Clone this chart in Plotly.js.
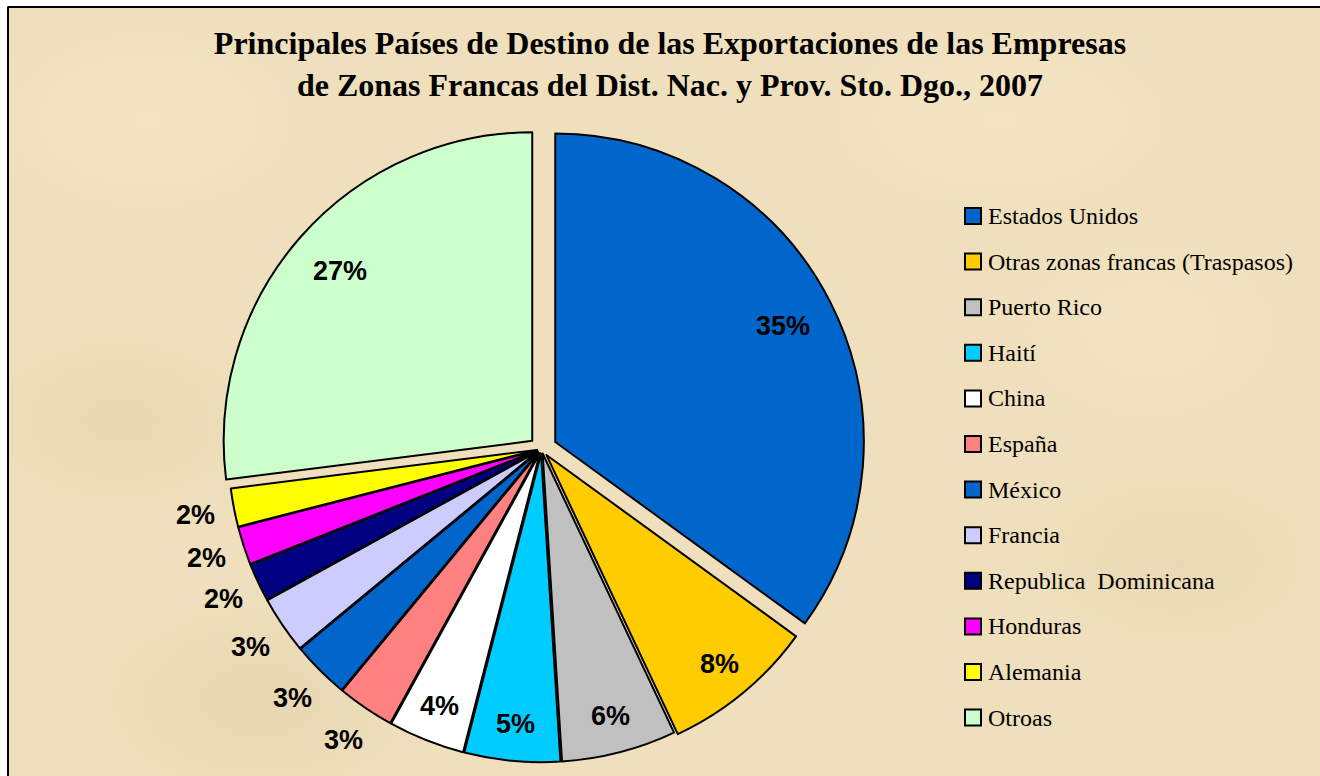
<!DOCTYPE html>
<html>
<head>
<meta charset="utf-8">
<script src="https://cdn.plot.ly/plotly-3.0.1.min.js"></script>
<style>
html,body{margin:0;padding:0;background:#fff;}
#chart{width:1320px;height:776px;
  background-color:#EFDFBC;
  background-image:
    radial-gradient(ellipse 220px 140px at 120px 420px, rgba(205,180,135,0.18), rgba(205,180,135,0) 70%),
    radial-gradient(ellipse 260px 160px at 260px 700px, rgba(200,175,130,0.18), rgba(200,175,130,0) 70%),
    radial-gradient(ellipse 240px 150px at 1180px 560px, rgba(210,185,140,0.16), rgba(210,185,140,0) 70%),
    radial-gradient(ellipse 300px 160px at 1000px 120px, rgba(250,238,210,0.4), rgba(250,238,210,0) 70%),
    radial-gradient(ellipse 260px 160px at 150px 120px, rgba(250,238,210,0.4), rgba(250,238,210,0) 70%),
    radial-gradient(ellipse 260px 180px at 1150px 330px, rgba(248,234,205,0.35), rgba(248,234,205,0) 70%);
}
</style>
</head>
<body>
<div id="chart"></div>
<script>
const categories = ["Estados Unidos","Otras zonas francas (Traspasos)","Puerto Rico","Haití","China","España","México","Francia","Republica  Dominicana","Honduras","Alemania","Otroas"];
const values = [35, 8, 6, 5, 4, 3, 3, 3, 2, 2, 2, 27];
const colors = ["#0066CC","#FFCC00","#C0C0C0","#00CCFF","#FFFFFF","#FF8080","#0066CC","#CCCCFF","#000080","#FF00FF","#FFFF00","#CCFFCC"];
const pulls = [0.05, 0.025, 0.015, 0.015, 0.015, 0.015, 0.015, 0.015, 0.015, 0.015, 0.015, 0.04];
const titleText = "Principales Países de Destino de las Exportaciones de las Empresas<br>de Zonas Francas del Dist. Nac. y Prov. Sto. Dgo., 2007";

const W = 1320, H = 776;
const labelFont = {family: "Liberation Sans, Arial, sans-serif", size: 27, color: "#000", weight: "bold"};
const total = values.reduce((a, b) => a + b, 0);
const pctText = values.map(v => Math.round(100 * v / total) + "%");

// pie geometry (pixels)
const dom = {x: [215, 868], yTop: 125, yBot: 773};
const cx = (dom.x[0] + dom.x[1]) / 2, cy = (dom.yTop + dom.yBot) / 2;
const maxPull = Math.max(...pulls);
const R = Math.min(dom.x[1] - dom.x[0], dom.yBot - dom.yTop) / (2 + 2 * maxPull);

const trace = {
  type: "pie",
  labels: categories,
  values: values,
  sort: false,
  direction: "clockwise",
  rotation: 0,
  pull: pulls,
  marker: {colors: colors, line: {color: "#000", width: 2}},
  textinfo: "none",
  domain: {x: [dom.x[0] / W, dom.x[1] / W], y: [1 - dom.yBot / H, 1 - dom.yTop / H]},
  showlegend: false,
  hoverinfo: "label+percent"
};

const annotations = [];
const shapes = [];
// percentage labels along each slice's bisector (inside end for larger slices, outside end for small ones)
let cum = 0;
values.forEach((v, i) => {
  const a = 2 * Math.PI * (cum + v / 2) / total;
  cum += v;
  const share = v / total;
  const k = share >= 0.2 ? 0.83 : (share >= 0.04 ? 0.88 : 1.125);
  const rr = R * (pulls[i] + k);
  const px = cx + rr * Math.sin(a), py = cy - rr * Math.cos(a);
  annotations.push({xref: "paper", yref: "paper", x: px / W, y: 1 - py / H,
    xanchor: "center", yanchor: "middle", showarrow: false, text: pctText[i], font: labelFont});
});

// Legend built from categories/colors
const legX = 965, legY0 = 216, legStep = 45.6, sq = 16;
categories.forEach((c, i) => {
  const yc = legY0 + i * legStep;
  shapes.push({type: "rect", xref: "paper", yref: "paper",
    x0: legX / W, x1: (legX + sq) / W, y0: 1 - (yc - sq/2) / H, y1: 1 - (yc + sq/2) / H,
    fillcolor: colors[i], line: {color: "#000", width: 2}});
  annotations.push({xref: "paper", yref: "paper", x: (legX + sq + 5) / W, y: 1 - yc / H,
    xanchor: "left", yanchor: "middle", showarrow: false, text: c,
    font: {family: "Liberation Serif, Times New Roman, serif", size: 24, color: "#000"}});
});
// frame: white strips top/left and black border lines
shapes.push({type: "rect", xref: "paper", yref: "paper", x0: 0, x1: 1, y0: 1 - 6/H, y1: 1, fillcolor: "#fff", line: {width: 0}});
shapes.push({type: "rect", xref: "paper", yref: "paper", x0: 0, x1: 7/W, y0: 0, y1: 1, fillcolor: "#fff", line: {width: 0}});
shapes.push({type: "line", xref: "paper", yref: "paper", x0: 7.5/W, x1: 1, y0: 1 - 7/H, y1: 1 - 7/H, line: {color: "#000", width: 2}});
shapes.push({type: "line", xref: "paper", yref: "paper", x0: 8/W, x1: 8/W, y0: 0, y1: 1 - 7/H, line: {color: "#000", width: 2}});

const layout = {
  width: W, height: H,
  margin: {l: 0, r: 0, t: 0, b: 0},
  paper_bgcolor: "rgba(0,0,0,0)",
  title: {text: titleText, x: 670/W, xanchor: "center", y: 1 - 54/H, yanchor: "middle",
    font: {family: "Liberation Serif, Times New Roman, serif", size: 32, color: "#000", weight: "bold"}},
  showlegend: false,
  annotations: annotations,
  shapes: shapes
};
Plotly.newPlot("chart", [trace], layout, {displayModeBar: false, staticPlot: true});
</script>
</body>
</html>
